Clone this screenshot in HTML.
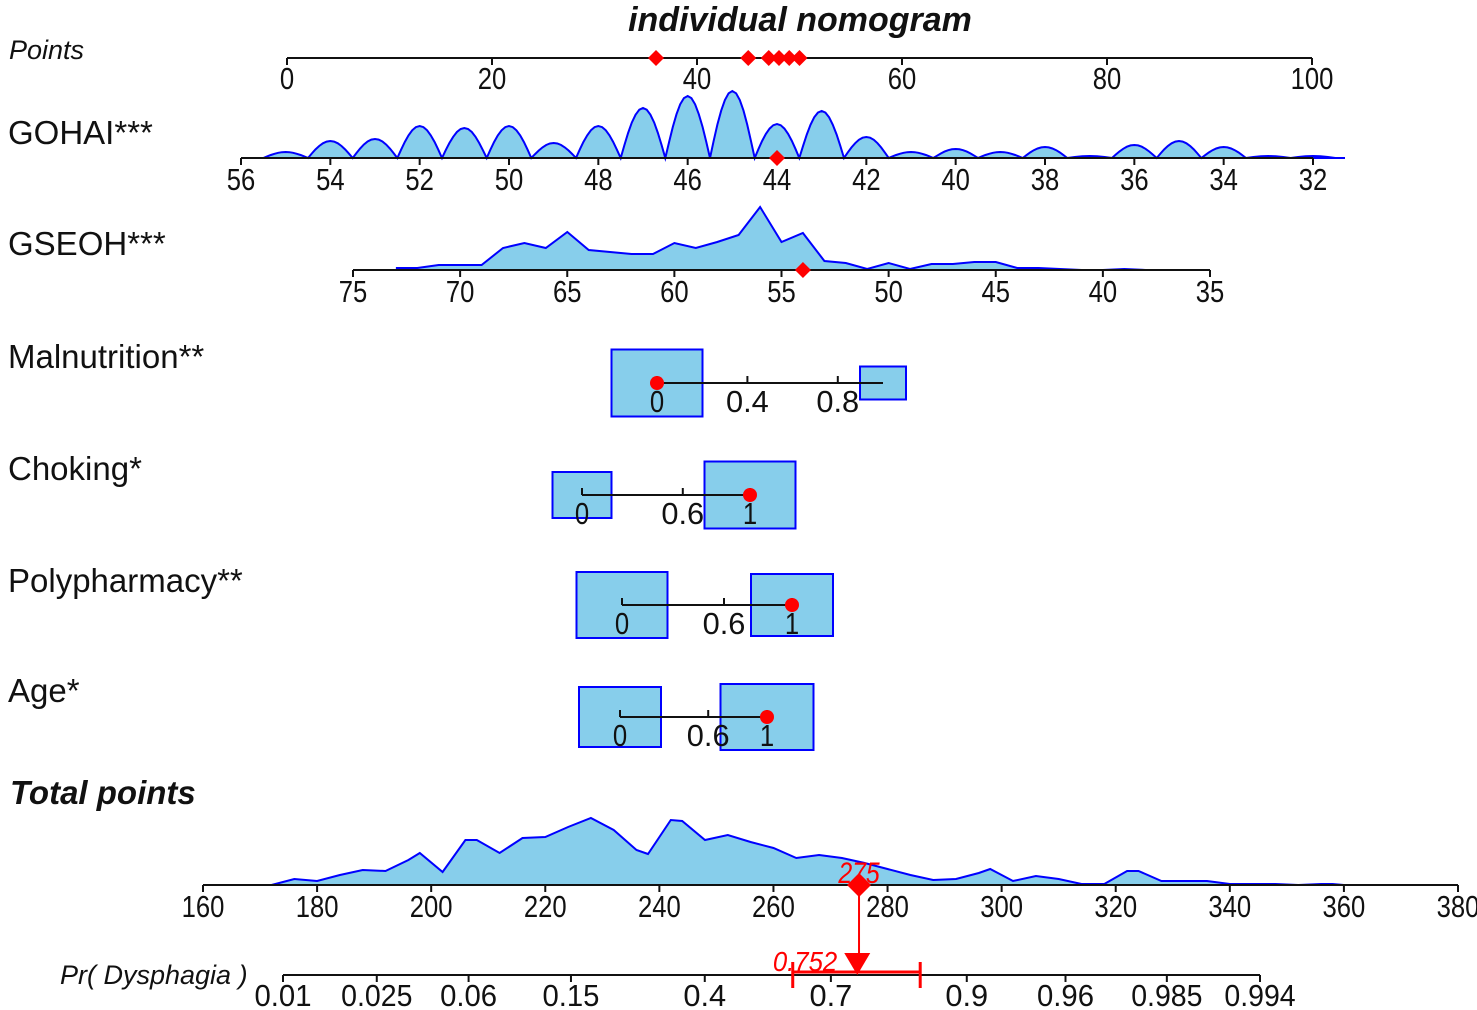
<!DOCTYPE html>
<html><head><meta charset="utf-8"><style>
html,body{margin:0;padding:0;background:#fff;}
svg{display:block;font-family:"Liberation Sans",Arial,sans-serif;}
</style></head><body>
<svg id="nomo" width="1477" height="1010" viewBox="0 0 1477 1010"></svg>
<script>
// ---- data ----
const pointsTicks = [0,20,40,60,80,100];
const pointsMarks = [36,45,47,48,49,50];
const gohaiTicks = [56,54,52,50,48,46,44,42,40,38,36,34,32];
const gohaiVals = [55,54,53,52,51,50,49,48,47,46,45,44,43,42,41,40,39,38,37,36,35,34,33,32];
const gohaiDens = [6,17,19,32,30,32,15,32,50,62,67,34,47,21,6,9,6,11,2,13,17,11,2,2];
const gohaiSel = 44;
const gseohTicks = [75,70,65,60,55,50,45,40,35];
const gseohVals = [73,72,71,70,69,68,67,66,65,64,63,62,61,60,59,58,57,56,55,54,53,52,51,50,49,48,47,46,45,44,43,42,41,40,39,38];
const gseohDens = [2,2,5,5,5,22,27,22,38,20,18,16,16,27,22,28,35,63,28,37,9,7,1,7,1,6,6,8,8,2,2,1,0,0,1,0];
const gseohSel = 54;
const totalTicks = [160,180,200,220,240,260,280,300,320,340,360,380];
const totalVals = [172,176,180,184,188,192,196,198,202,206,208,212,216,220,224,228,232,236,238,242,244,248,252,256,260,264,268,272,276,280,284,288,292,296,298,302,306,310,314,318,322,324,328,336,340,344,348,352,356,358,360];
const totalDens = [0,6,4,10,15,14,25,32,13,45,45,32,47,48,58,67,55,35,31,65,64,45,50,43,37,27,30,27,22,16,10,5,6,12,16,4,9,6,1,1,14,14,4,4,1,1,1,0,1,1,0];
const totalSel = 275;
const probTicks = ["0.01","0.025","0.06","0.15","0.4","0.7","0.9","0.96","0.985","0.994"];
const probSel = 0.752;
const probCI = [0.615,0.85];
const catVars = [
  {name:"Malnutrition**", y:383, x0:657, x1:883, ticks:["0","0.4","0.8"], tv:[0,0.4,0.8], boxes:[[0,91,67],[1,46,33]], sel:0, ly:356},
  {name:"Choking*", y:495, x0:582, x1:750, ticks:["0","0.6","1"], tv:[0,0.6,1], boxes:[[0,59,46],[1,91,67]], sel:1, ly:468},
  {name:"Polypharmacy**", y:605, x0:622, x1:792, ticks:["0","0.6","1"], tv:[0,0.6,1], boxes:[[0,91,66],[1,82,62]], sel:1, ly:580},
  {name:"Age*", y:717, x0:620, x1:767, ticks:["0","0.6","1"], tv:[0,0.6,1], boxes:[[0,82,60],[1,93,66]], sel:1, ly:690}
];
// ---- helpers ----
const NS="http://www.w3.org/2000/svg";
const svg=document.getElementById('nomo');
function el(tag,attrs,parent){const e=document.createElementNS(NS,tag);for(const k in attrs)e.setAttribute(k,attrs[k]);(parent||svg).appendChild(e);return e;}
function txt(s,x,y,size,opts,parent){opts=opts||{};const t=el('text',{x:x,y:y,'font-size':size,'text-anchor':opts.anchor||'middle',fill:opts.fill||'#111','font-style':opts.italic?'italic':'normal','font-weight':opts.bold?'bold':'normal'},parent);t.textContent=s;if(opts.cond){t.setAttribute('textLength',(s.length*size*0.46).toFixed(1));t.setAttribute('lengthAdjust','spacingAndGlyphs');}return t;}
function lin(d0,d1,r0,r1){return v=>r0+(v-d0)*(r1-r0)/(d1-d0);}
const TS=31;
function axis(g,y,x0,x1,ticks,sc,labY){el('line',{x1:x0,y1:y,x2:x1,y2:y,stroke:'#111','stroke-width':2},g);ticks.forEach(t=>{const x=sc(t);el('line',{x1:x,y1:y,x2:x,y2:y+7,stroke:'#111','stroke-width':2},g);const l=txt(String(t),x,labY,TS,{cond:true},g);});}
function diamond(g,x,y,r){const d=el('polygon',{points:`${x},${y-r} ${x+r},${y} ${x},${y+r} ${x-r},${y}`,fill:'#f00'},g);return d;}
function density(g,vals,dens,sc,base,hump){
  let pts=[];
  if(hump){vals.forEach((v,i)=>{const a=sc(v-0.5),b=sc(v+0.5);for(let k=0;k<=12;k++){const t=k/12;pts.push([a+(b-a)*t,base-dens[i]*Math.sin(Math.PI*t)]);}});}
  else{vals.forEach((v,i)=>pts.push([sc(v),base-dens[i]]));}
  pts.sort((p,q)=>p[0]-q[0]);
  const line=pts.map(p=>p[0].toFixed(1)+','+p[1].toFixed(1)).join(' ');
  const area=el('polygon',{points:`${pts[0][0]},${base} ${line} ${pts[pts.length-1][0]},${base}`,fill:'#87ceeb',stroke:'none'},g);
  
  const pl=el('polyline',{points:line,fill:'none',stroke:'#0000ff','stroke-width':2},g);
  
}
// ---- title & labels ----
let t=txt('individual nomogram',800,31,34,{bold:true,italic:true});
const lab=[['Points',9,59,27,true,false],['GOHAI***',8,144,33,false,false],['GSEOH***',8,255,33,false,false],['Total points',10,804,33,true,true],['Pr( Dysphagia )',60,984,27,true,false]];
lab.forEach(a=>{const e=txt(a[0],a[1],a[2],a[3],{anchor:'start',italic:a[4],bold:a[5]});});
// Points
let g=el('g',{});
const sP=lin(0,100,287,1312);axis(g,58,287,1312,pointsTicks,sP,89);
pointsMarks.forEach(p=>diamond(g,sP(p),58,8));
// GOHAI
g=el('g',{});
const sG=lin(56,32,241,1313);density(g,gohaiVals,gohaiDens,sG,158,true);
el('line',{x1:sG(32.5),y1:158,x2:1345,y2:158,stroke:'#0000ff','stroke-width':2},g);
axis(g,158,241,1313,gohaiTicks,sG,190);diamond(g,sG(gohaiSel),158,8);
// GSEOH
g=el('g',{});
const sS=lin(75,35,353,1210);density(g,gseohVals,gseohDens,sS,270,false);
axis(g,270,353,1210,gseohTicks,sS,302);diamond(g,sS(gseohSel),270,8);
// categorical
catVars.forEach(c=>{
  const gg=el('g',{});
  const sc=lin(0,1,c.x0,c.x1);
  c.boxes.forEach(b=>{const r=el('rect',{x:sc(b[0])-b[1]/2,y:c.y-b[2]/2,width:b[1],height:b[2],fill:'#87ceeb',stroke:'#0000ff','stroke-width':2},gg);});
  el('line',{x1:c.x0,y1:c.y,x2:c.x1,y2:c.y,stroke:'#111','stroke-width':2},gg);
  c.tv.forEach((v,i)=>{const x=sc(v);el('line',{x1:x,y1:c.y,x2:x,y2:c.y-7,stroke:'#111','stroke-width':2},gg);const l=txt(c.ticks[i],x,c.y+29,TS,{cond:true},gg);});
  const d=el('circle',{cx:sc(c.sel),cy:c.y,r:7,fill:'#f00'},gg);
  const nl=txt(c.name,8,c.ly+12,33,{anchor:'start'});
});
// Total points
g=el('g',{});
const sT=lin(160,380,203,1458);density(g,totalVals,totalDens,sT,885,false);
axis(g,885,203,1458,totalTicks,sT,917);
const tx=sT(totalSel);
el('line',{x1:tx,y1:885,x2:tx,y2:960,stroke:'#f00','stroke-width':2},g);
diamond(g,tx,885,12);
t=txt(String(totalSel),tx,883,30,{italic:true,fill:'#f00',cond:true},g);
// Probability
g=el('g',{});
const logit=p=>Math.log(p/(1-p));
const sPr=p=>283+(logit(p)-logit(0.01))*(1260-283)/(logit(0.994)-logit(0.01));
el('line',{x1:283,y1:975,x2:1260,y2:975,stroke:'#111','stroke-width':2},g);
probTicks.forEach(s=>{const x=sPr(parseFloat(s));el('line',{x1:x,y1:975,x2:x,y2:982,stroke:'#111','stroke-width':2},g);const l=txt(s,x,1006,TS,{cond:true},g);});
const a=sPr(probCI[0]),b=sPr(probCI[1]);
el('line',{x1:a,y1:972,x2:b,y2:972,stroke:'#f00','stroke-width':3},g);
el('line',{x1:a,y1:962,x2:a,y2:988,stroke:'#f00','stroke-width':3},g);
el('line',{x1:b,y1:962,x2:b,y2:988,stroke:'#f00','stroke-width':3},g);
const px=sPr(probSel);
const tri=el('polygon',{points:`${px-13},953 ${px+13},953 ${px},975`,fill:'#f00'},g);
t=txt(String(probSel),px-20,971,28,{italic:true,fill:'#f00',anchor:'end',cond:true},g);
</script>
</body></html>
